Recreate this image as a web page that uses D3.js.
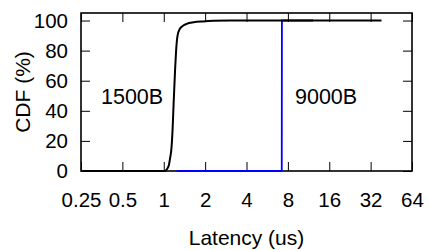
<!DOCTYPE html>
<html>
<head>
    <meta charset="utf-8">
    <title>CDF latency</title>
    <script src="https://d3js.org/d3.v7.min.js"></script>
    <style>
        body { margin: 0; background: #fff; }
        text { font-family: "Liberation Sans", Arial, sans-serif; }
    </style>
</head>
<body>
<div id="chart"></div>
<script type="text/javascript">

    // dados
    let xTicks = [0.25, 0.5, 1, 2, 4, 8, 16, 32, 64];
    let xTickLabels = ["0.25", "0.5", "1", "2", "4", "8", "16", "32", "64"];
    let yTicks = [0, 20, 40, 60, 80, 100];

    let lat1500 = [0.25, 1.0, 1.03, 1.06, 1.09, 1.11, 1.14, 1.16, 1.18, 1.21, 1.23, 1.26, 1.31, 1.38, 1.47, 1.65, 1.93, 2.3, 3, 38.4];
    let cdf1500 = [0, 0, 0.3, 1.5, 4, 8, 16, 28, 45, 68, 80, 90, 94.5, 96.5, 97.8, 98.8, 99.4, 99.8, 100, 100];

    let lat9000 = [1.24, 7.22, 7.24, 12.2];
    let cdf9000 = [0, 0, 100, 100];

    let W = 428, H = 250;
    let margin = {top: 13, right: 16, bottom: 79, left: 81};
    let w = W - margin.left - margin.right;
    let h = H - margin.top - margin.bottom;

    let svg = d3.select("#chart")
        .append("svg")
            .attr("width", W)
            .attr("height", H)
        .append("g")
            .attr("transform", "translate(" + margin.left + "," + margin.top + ")");

    let xScale = d3.scaleLog().base(2)
        .domain([0.25, 64])
        .range([0, w]);

    let yScale = d3.scaleLinear()
        .domain([0, 105])
        .range([h, 0]);

    let tick = 9;

    // eixos (ticks para dentro, nos quatro lados)
    let xAxis = svg.append("g")
        .attr("transform", "translate(0," + h + ")")
        .call(d3.axisBottom(xScale).tickValues(xTicks)
            .tickFormat(function(d, i) { return xTickLabels[i]; })
            .tickSize(-tick).tickPadding(36));
    let xTop = svg.append("g")
        .call(d3.axisTop(xScale).tickValues(xTicks).tickFormat("").tickSize(-tick));
    let yAxis = svg.append("g")
        .call(d3.axisLeft(yScale).tickValues(yTicks).tickSize(-tick).tickPadding(13));
    let yRight = svg.append("g")
        .attr("transform", "translate(" + w + ",0)")
        .call(d3.axisRight(yScale).tickValues(yTicks).tickFormat("").tickSize(-tick));

    svg.selectAll(".domain").remove();
    svg.selectAll(".tick line").attr("stroke", "#000").attr("stroke-width", 1);
    svg.selectAll(".tick text")
        .attr("font-size", "20.5px")
        .attr("fill", "#000");
    xAxis.selectAll(".tick text").attr("dy", "0");

    // moldura
    svg.append("rect")
        .attr("x", 0).attr("y", 0)
        .attr("width", w).attr("height", h)
        .attr("fill", "none")
        .attr("stroke", "#000")
        .attr("stroke-width", 1.6);

    let line = d3.line()
        .x(function(d) { return xScale(d[0]); })
        .y(function(d) { return yScale(d[1]); })
        .curve(d3.curveMonotoneX);

    let stepLine = d3.line()
        .x(function(d) { return xScale(d[0]); })
        .y(function(d) { return yScale(d[1]); });

    svg.append("path")
        .datum(lat9000.map(function(d, i) { return [d, cdf9000[i]]; }))
        .attr("d", stepLine)
        .attr("fill", "none")
        .attr("stroke", "#0000ff")
        .attr("stroke-width", 1.8);

    svg.append("path")
        .datum(lat1500.map(function(d, i) { return [d, cdf1500[i]]; }))
        .attr("d", line)
        .attr("fill", "none")
        .attr("stroke", "#000")
        .attr("stroke-width", 2);

    // rótulos das curvas
    svg.append("text")
        .attr("x", 101 - margin.left)
        .attr("y", 104 - margin.top)
        .attr("font-size", "21.5px")
        .text("1500B");
    svg.append("text")
        .attr("x", 295 - margin.left)
        .attr("y", 104 - margin.top)
        .attr("font-size", "21.5px")
        .text("9000B");

    // título eixo horizontal
    svg.append("text")
        .attr("x", w / 2)
        .attr("y", 245 - margin.top)
        .style("text-anchor", "middle")
        .attr("font-size", "21px")
        .text("Latency (us)");

    // título eixo vertical
    svg.append("text")
        .attr("transform", "translate(" + (30 - margin.left) + "," + (h / 2) + ") rotate(-90)")
        .style("text-anchor", "middle")
        .attr("font-size", "21px")
        .text("CDF (%)");

</script>
</body>
</html>
